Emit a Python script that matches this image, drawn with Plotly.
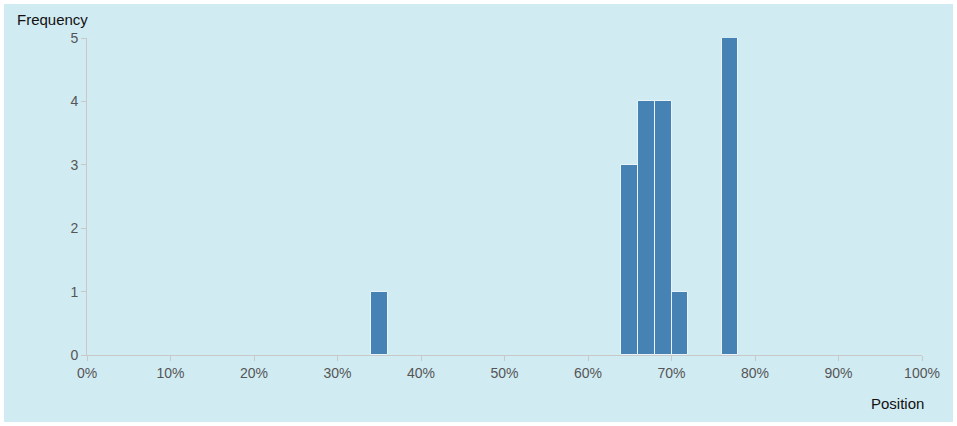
import plotly.graph_objects as go

# Histogram bins (percent position, bin width 2%)
bin_centers = [35, 65, 67, 69, 71, 77]
frequencies = [1, 3, 4, 4, 1, 5]
bin_width = 2
x_ticks = [0, 10, 20, 30, 40, 50, 60, 70, 80, 90, 100]
x_tick_labels = [f"{v}%" for v in x_ticks]
y_ticks = [0, 1, 2, 3, 4, 5]

BG = "#d1ebf3"
AXIS = "#c8c8c8"
FONT = "Liberation Sans, Arial, sans-serif"
TICKFONT = dict(family=FONT, size=14, color="#555555")

fig = go.Figure(
    go.Bar(
        x=bin_centers,
        y=frequencies,
        width=[bin_width] * len(bin_centers),
        marker=dict(color="#4682b4", line=dict(color="#e8f4f8", width=1)),
        hoverinfo="x+y",
    )
)

fig.update_layout(
    width=949,
    height=418,
    autosize=False,
    paper_bgcolor=BG,
    plot_bgcolor=BG,
    margin=dict(l=83, r=31, t=34, b=67),
    showlegend=False,
    bargap=0,
    xaxis=dict(
        range=[0, 100],
        tickvals=x_ticks,
        ticktext=x_tick_labels,
        showgrid=False,
        zeroline=False,
        showline=True,
        linecolor=AXIS,
        linewidth=1,
        ticks="outside",
        ticklen=5,
        tickcolor=AXIS,
        tickfont=TICKFONT,
        fixedrange=True,
    ),
    yaxis=dict(
        range=[0, 5],
        tickvals=y_ticks,
        showgrid=False,
        zeroline=False,
        showline=True,
        linecolor=AXIS,
        linewidth=1,
        ticks="outside",
        ticklen=5,
        tickcolor=AXIS,
        tickfont=TICKFONT,
        fixedrange=True,
    ),
    annotations=[
        dict(
            text="Frequency", xref="paper", yref="paper", x=0, y=1,
            xanchor="left", yanchor="middle", xshift=-72, yshift=19,
            showarrow=False,
            font=dict(family=FONT, size=15, color="#111111"),
        ),
        dict(
            text="Position", xref="paper", yref="paper", x=1, y=0,
            xanchor="right", yanchor="middle", xshift=4, yshift=-48,
            showarrow=False,
            font=dict(family=FONT, size=15, color="#111111"),
        ),
    ],
)

fig.write_html(
    "out.html",
    config={"displayModeBar": False},
    post_script="document.body.style.margin='4px';document.body.style.background='#ffffff';document.body.style.overflow='hidden';",
)
